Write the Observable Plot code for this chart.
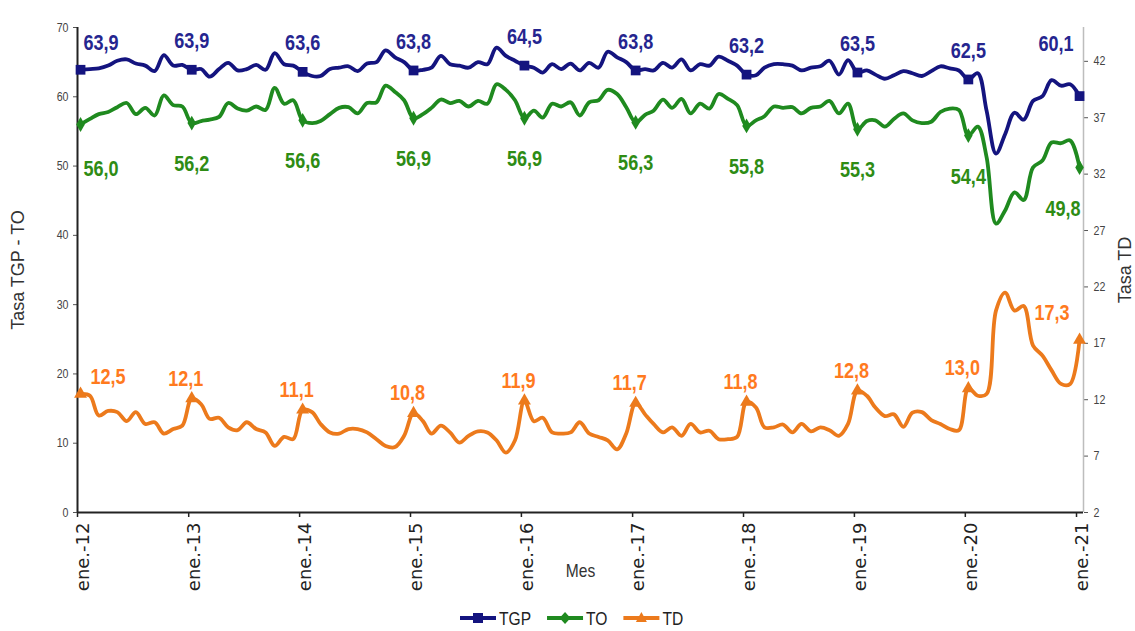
<!DOCTYPE html>
<html>
<head>
<meta charset="utf-8">
<script src="https://cdn.jsdelivr.net/npm/d3@7"></script>
<script src="https://cdn.jsdelivr.net/npm/@observablehq/plot@0.6"></script>
<style>
  html, body { margin: 0; padding: 0; background: #fff; }
  #chart svg { display: block; overflow: visible; }
  #chart g[aria-label="y-axis tick label"] text { font: 12.5px "Liberation Sans", Arial, sans-serif; fill: #444; }
  #chart g[aria-label="x-axis tick label"] text { font: 18px "DejaVu Sans", sans-serif; fill: #222; }
  #chart g[aria-label="y-axis label"] text { font: 18px "Liberation Sans", Arial, sans-serif; fill: #333; }
  #chart g[aria-label="x-axis label"] text { font: 19px "Liberation Sans", Arial, sans-serif; fill: #333; }
  #chart g[aria-label="y-axis tick"] path { stroke: #555; }
  #chart g[aria-label="x-axis tick"] path { stroke: #222; stroke-width: 1.5; }
  #legend { display: flex; justify-content: center; align-items: center; height: 26px; padding-left: 12px; }
</style>
</head>
<body>
<div id="chart"></div>
<div id="legend"></div>
<script>
// ---- Data ----
const seriesNames = ["TGP", "TO", "TD"];

const tgp = [
  63.9, 64.0, 64.1, 64.5, 65.2, 65.4, 64.8, 64.5, 63.7, 66.0, 64.5, 64.6,
  63.9, 64.0, 62.9, 64.0, 64.9, 63.8, 64.0, 64.6, 63.9, 66.3, 64.7, 64.5,
  63.6, 63.0, 63.0, 64.0, 64.2, 64.4, 63.7, 64.8, 65.0, 66.7, 65.7, 65.0,
  63.8, 63.9, 64.2, 65.9, 64.7, 64.5, 64.2, 65.0, 64.7, 67.1, 65.9, 65.2,
  64.5, 64.2, 63.5, 64.7, 64.0, 64.8, 63.8, 64.9, 64.2, 66.5, 65.7, 65.0,
  63.8, 64.0, 63.8, 64.9, 64.2, 65.4, 63.8, 64.7, 64.5, 65.8, 65.2, 64.5,
  63.2, 63.1, 64.2, 64.7, 64.7, 64.5, 63.8, 64.2, 64.4, 65.2, 63.2, 65.3,
  63.5, 63.8, 63.2, 62.6, 63.1, 63.7, 63.4, 63.0, 63.7, 64.4, 64.1, 63.8,
  62.5, 63.4, 58.0, 51.8, 54.6, 57.7, 56.7, 59.4, 60.1, 62.4, 61.6, 61.8,
  60.1
];

const to = [
  56.0, 56.8, 57.5, 57.8, 58.5, 59.1, 57.5, 58.4, 57.3, 60.2, 58.8, 58.6,
  56.2, 56.5, 56.7, 57.1, 59.1, 58.3, 58.0, 58.6, 58.1, 61.3, 59.0, 59.5,
  56.6, 56.2, 56.5, 57.5, 58.4, 58.5, 57.6, 59.1, 59.2, 61.6, 60.7, 59.5,
  56.9, 57.5, 58.4, 59.6, 59.1, 59.4, 58.6, 59.4, 59.0, 61.8, 61.0, 59.5,
  56.9, 58.0, 57.0, 59.0, 58.6, 59.2, 57.3, 59.2, 59.5, 61.0, 60.4, 58.5,
  56.3, 57.4, 58.0, 59.6, 58.4, 59.7, 57.6, 59.0, 58.3, 60.4, 59.7, 58.8,
  55.8, 56.6, 57.2, 58.6, 58.4, 58.5, 57.6, 58.4, 58.6, 59.4, 57.6, 59.0,
  55.3, 56.5, 56.6, 55.7, 56.8, 57.6, 56.6, 56.2, 56.4, 57.8, 58.3, 58.1,
  54.4, 55.7, 51.3, 41.7, 43.6, 46.2, 45.1, 49.8, 50.8, 53.4, 53.3, 53.7,
  49.8
];

const td = [
  12.5, 12.35, 10.6, 11.0, 10.9, 10.1, 10.9, 9.85, 10.0, 9.0, 9.4, 9.7,
  12.1, 11.6, 10.3, 10.4, 9.55, 9.3, 10.0, 9.4, 9.1, 7.9, 8.7, 8.5,
  11.1, 10.9, 9.85, 9.1, 9.0, 9.4, 9.4, 9.1, 8.5, 7.9, 7.8, 8.8,
  10.8, 10.1, 9.0, 9.7, 9.1, 8.2, 8.8, 9.2, 9.1, 8.4, 7.3, 8.4,
  11.9, 10.1, 10.4, 9.1, 9.0, 9.1, 10.0, 9.0, 8.7, 8.4, 7.6, 9.0,
  11.7, 10.7, 9.85, 9.1, 9.55, 8.8, 9.85, 9.1, 9.25, 8.5, 8.5, 8.7,
  11.8, 11.3, 9.55, 9.55, 9.8, 9.1, 9.85, 9.2, 9.55, 9.3, 8.8, 9.85,
  12.8, 12.35, 11.3, 10.55, 10.7, 9.6, 10.85, 10.9, 10.2, 9.85, 9.4, 9.3,
  13.0, 12.35, 12.5, 19.9, 21.5, 19.9, 20.3, 16.8, 15.9, 14.6, 13.4, 13.4,
  17.3
];

const xTickLabels = ["ene.-12", "ene.-13", "ene.-14", "ene.-15", "ene.-16",
                     "ene.-17", "ene.-18", "ene.-19", "ene.-20", "ene.-21"];
const leftTicks = [0, 10, 20, 30, 40, 50, 60, 70];
const rightTicks = [2, 7, 12, 17, 22, 27, 32, 37, 42];
const leftDomain = [0, 70];
const rightDomain = [2, 45];

// ---- Styling ----
const lineColors = {TGP: "#14147f", TO: "#1f8a1f", TD: "#ec7a1c"};
const labelColors = {TGP: "#25258f", TO: "#2e8c14", TD: "#ff7a1e"};
const FONT = '"Liberation Sans", Arial, sans-serif';

// ---- Derived ----
const start = new Date(Date.UTC(2012, 0, 1));
const months = d3.utcMonths(start, new Date(Date.UTC(2021, 1, 1)));
const yearTicks = d3.utcYears(start, new Date(Date.UTC(2021, 0, 2)));
const xEnd = new Date(Date.UTC(2021, 0, 24));

const toLeft = v => (v - rightDomain[0]) * (leftDomain[1] - leftDomain[0]) / (rightDomain[1] - rightDomain[0]) + leftDomain[0];
const fromLeft = v => (v - leftDomain[0]) * (rightDomain[1] - rightDomain[0]) / (leftDomain[1] - leftDomain[0]) + rightDomain[0];

const rows = months.map((date, i) => ({date, i, tgp: tgp[i], to: to[i], td: td[i]}));
const jan = rows.filter(d => d.i % 12 === 0);
const first = jan.slice(0, 1);
const middle = jan.slice(1, -1);
const last = jan.slice(-1);

const xPos = d => d3.utcDay.offset(d.date, 10);
const fmt = v => v.toFixed(1).replace(".", ",");
const tdY = d => toLeft(d.td);

const labelStyle = (key) => ({fill: labelColors[key], fontSize: 22, fontWeight: "bold", fontFamily: FONT});

const chart = Plot.plot({
  width: 1135,
  height: 605,
  marginLeft: 77,
  marginRight: 52,
  marginTop: 27,
  marginBottom: 93,
  x: {type: "utc", domain: [start, xEnd]},
  y: {domain: leftDomain},
  marks: [
    // axes
    Plot.axisY({ticks: leftTicks, tickSize: 4, tickPadding: 5,
      label: "Tasa TGP - TO", labelAnchor: "center", labelOffset: 66, labelArrow: "none"}),
    Plot.axisY({anchor: "right", ticks: rightTicks.map(toLeft),
      tickFormat: d => String(Math.round(fromLeft(d))), tickSize: 4, tickPadding: 6,
      label: "Tasa TD", labelAnchor: "center", labelOffset: 47, labelArrow: "none"}),
    Plot.axisX({ticks: yearTicks, tickFormat: () => "", tickSize: 5,
      label: "Mes", labelAnchor: "center", labelOffset: 64, labelArrow: "none"}),
    Plot.axisX({ticks: yearTicks,
      tickFormat: d => xTickLabels[yearTicks.findIndex(t => +t === +d)],
      tickSize: 0, tickPadding: 10, tickRotate: -90, textAnchor: "end", dx: 6, label: null}),
    Plot.ruleX([xEnd], {stroke: "#bdbdbd", strokeWidth: 1.5}),
    Plot.ruleX([start], {stroke: "#222", strokeWidth: 2}),
    Plot.ruleY([leftDomain[0]], {stroke: "#222", strokeWidth: 2}),

    // lines
    Plot.lineY(rows, {x: xPos, y: "tgp", stroke: lineColors.TGP, strokeWidth: 3.8, curve: "catmull-rom"}),
    Plot.lineY(rows, {x: xPos, y: "to", stroke: lineColors.TO, strokeWidth: 3.8, curve: "catmull-rom"}),
    Plot.lineY(rows, {x: xPos, y: tdY, stroke: lineColors.TD, strokeWidth: 3.8, curve: "catmull-rom"}),

    // January markers
    Plot.dot(jan, {x: xPos, y: "tgp", symbol: "square", r: 5.5, fill: lineColors.TGP}),
    Plot.dot(jan, {x: xPos, y: "to", symbol: "diamond", r: 4.5, fill: lineColors.TO}),
    Plot.dot(jan, {x: xPos, y: tdY, symbol: "triangle", r: 4.8, fill: lineColors.TD}),

    // January labels
    Plot.text(first, {x: xPos, y: "tgp", text: d => fmt(d.tgp), dy: -27, dx: 3, textAnchor: "start", ...labelStyle("TGP")}),
    Plot.text(middle, {x: xPos, y: "tgp", text: d => fmt(d.tgp), dy: -29, ...labelStyle("TGP")}),
    Plot.text(last, {x: xPos, y: "tgp", text: d => fmt(d.tgp), dy: -52, dx: -6, textAnchor: "end", ...labelStyle("TGP")}),

    Plot.text(first, {x: xPos, y: "to", text: d => fmt(d.to), dy: 44, dx: 3, textAnchor: "start", ...labelStyle("TO")}),
    Plot.text(middle, {x: xPos, y: "to", text: d => fmt(d.to), dy: 41, ...labelStyle("TO")}),
    Plot.text(last, {x: xPos, y: "to", text: d => fmt(d.to), dy: 41, dx: 1, textAnchor: "end", ...labelStyle("TO")}),

    Plot.text(first, {x: xPos, y: tdY, text: d => fmt(d.td), dy: -17, dx: 10, textAnchor: "start", ...labelStyle("TD")}),
    Plot.text(middle, {x: xPos, y: tdY, text: d => fmt(d.td), dy: -20, dx: -6, ...labelStyle("TD")}),
    Plot.text(last, {x: xPos, y: tdY, text: d => fmt(d.td), dy: -27, dx: -10, textAnchor: "end", ...labelStyle("TD")})
  ]
});
document.getElementById("chart").appendChild(chart);

// condense horizontal text (the reference uses a narrow face)
function condense(root, selector, factor) {
  root.querySelectorAll(selector).forEach(t => {
    const len = t.getComputedTextLength();
    if (len > 0) {
      t.setAttribute("textLength", (len * factor).toFixed(2));
      t.setAttribute("lengthAdjust", "spacingAndGlyphs");
    }
  });
}
condense(chart, 'g[aria-label="text"] text', 0.82);
condense(chart, 'g[aria-label="y-axis tick label"] text', 0.85);
condense(chart, 'g[aria-label="x-axis label"] text', 0.82);

// ---- Legend (separate SVG below the chart) ----
const legendSymbols = [
  c => `<rect x="13" y="8" width="10" height="10" fill="${c}"/>`,
  c => `<path d="M18 7 L23.5 13 L18 19 L12.5 13 Z" fill="${c}"/>`,
  c => `<path d="M18 7 L23.5 17 L12.5 17 Z" fill="${c}"/>`
];
const legend = document.getElementById("legend");
const svgNS = "http://www.w3.org/2000/svg";
const lsvg = document.createElementNS(svgNS, "svg");
lsvg.setAttribute("height", "26");
lsvg.setAttribute("width", "400");
legend.appendChild(lsvg);
let lx = 0;
seriesNames.forEach((name, k) => {
  const c = lineColors[name];
  const g = document.createElementNS(svgNS, "g");
  g.setAttribute("transform", `translate(${lx},0)`);
  g.innerHTML = `<line x1="0" x2="36" y1="13" y2="13" stroke="${c}" stroke-width="3.8"/>${legendSymbols[k](c)}<text x="39" y="19.5" font-family='${FONT}' font-size="19" fill="#222">${name}</text>`;
  lsvg.appendChild(g);
  const t = g.querySelector("text");
  const w = t.getComputedTextLength() * 0.82;
  t.setAttribute("textLength", w.toFixed(2));
  t.setAttribute("lengthAdjust", "spacingAndGlyphs");
  lx += 39 + w + 16;
});
lsvg.setAttribute("width", String(Math.ceil(lx - 12)));
</script>
</body>
</html>
